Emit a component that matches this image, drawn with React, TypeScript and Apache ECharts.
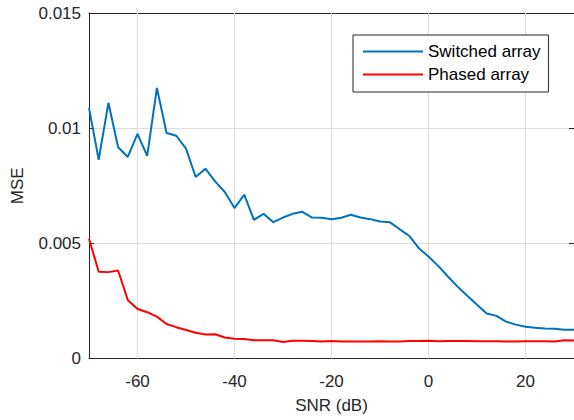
import React, { useEffect, useRef } from "react";
import * as echarts from "echarts";

const snr: number[] = [];
for (let v = -70; v <= 30; v += 2) snr.push(v);

const switchedArray = [
  0.01088, 0.00863, 0.0111, 0.00917, 0.00875, 0.00975, 0.0088, 0.01175, 0.00979, 0.00967,
  0.00911, 0.00788, 0.00824, 0.00769, 0.00723, 0.00653, 0.00711, 0.00602, 0.00628, 0.00592,
  0.00612, 0.00628, 0.00637, 0.00612, 0.00611, 0.00605, 0.00611, 0.00624, 0.00612, 0.00605,
  0.00595, 0.00592, 0.00562, 0.00533, 0.00479, 0.00443, 0.00402, 0.00356, 0.00312, 0.00272,
  0.00233, 0.00195, 0.00185, 0.0016, 0.00147, 0.00138, 0.00133, 0.0013, 0.00129, 0.00125,
  0.00125,
];

const phasedArray = [
  0.0052, 0.00377, 0.00375, 0.00382, 0.00254, 0.00215, 0.00201, 0.00182, 0.0015, 0.00136,
  0.00124, 0.00112, 0.00104, 0.00105, 0.00091, 0.00086, 0.00085, 0.00079, 0.00079, 0.00079,
  0.00072, 0.00077, 0.00077, 0.00076, 0.00074, 0.00076, 0.00074, 0.00074, 0.00074, 0.00074,
  0.00075, 0.00074, 0.00074, 0.00076, 0.00076, 0.00077, 0.00075, 0.00076, 0.00076, 0.00076,
  0.00075, 0.00075, 0.00075, 0.00074, 0.00074, 0.00075, 0.00075, 0.00075, 0.00074, 0.00079,
  0.00078,
];

const xTicks = [-60, -40, -20, 0, 20];
const yTicks = [0, 0.005, 0.01, 0.015];
const seriesNames = ["Switched array", "Phased array"];
const seriesColors = ["#0072BD", "#FF0000"];

const FONT = "'Liberation Sans', Arial, sans-serif";
const AXIS_COLOR = "#262626";
const GRID_COLOR = "#dedede";

export default function App() {
  const ref = useRef<HTMLDivElement>(null);

  useEffect(() => {
    if (!ref.current) return;
    const chart = echarts.init(ref.current, undefined, { renderer: "svg" });
    const tickCommon = { show: true, inside: true, length: 5, lineStyle: { color: AXIS_COLOR } };
    const axisLineCommon = { show: true, onZero: false, lineStyle: { color: AXIS_COLOR, width: 1 } };
    chart.setOption({
      animation: false,
      backgroundColor: "#ffffff",
      textStyle: { fontFamily: FONT },
      grid: { left: 89, top: 13, right: 0, bottom: 61.5, containLabel: false },
      legend: {
        orient: "vertical",
        left: 353,
        top: 35,
        data: seriesNames,
        icon: "rect",
        itemWidth: 60,
        itemHeight: 2,
        itemGap: 6,
        padding: [8, 8, 9, 10],
        backgroundColor: "#ffffff",
        borderColor: AXIS_COLOR,
        borderWidth: 1,
        borderRadius: 0,
        textStyle: { fontFamily: FONT, fontSize: 17, color: "#000000" },
      },
      xAxis: [
        {
          type: "value",
          min: -70,
          max: 30,
          interval: 10,
          name: "SNR (dB)",
          nameLocation: "middle",
          nameGap: 38,
          nameTextStyle: { fontFamily: FONT, fontSize: 17, color: AXIS_COLOR },
          axisLine: axisLineCommon,
          axisTick: { ...tickCommon, customValues: xTicks },
          axisLabel: {
            customValues: xTicks,
            margin: 14,
            fontFamily: FONT,
            fontSize: 17,
            color: AXIS_COLOR,
            formatter: (v: number) => String(v),
          },
          splitLine: { show: false },
        },
        {
          type: "value",
          position: "top",
          min: -70,
          max: 30,
          interval: 10,
          axisLine: axisLineCommon,
          axisTick: { ...tickCommon, customValues: xTicks },
          axisLabel: { show: false },
          splitLine: { show: false },
        },
      ],
      yAxis: [
        {
          type: "value",
          min: 0,
          max: 0.015,
          interval: 0.005,
          name: "MSE",
          nameLocation: "middle",
          nameGap: 63,
          nameTextStyle: { fontFamily: FONT, fontSize: 17, color: AXIS_COLOR },
          axisLine: axisLineCommon,
          axisTick: tickCommon,
          axisLabel: {
            margin: 8,
            fontFamily: FONT,
            fontSize: 17,
            color: AXIS_COLOR,
            formatter: (v: number) => {
              const t = yTicks.find((y) => Math.abs(y - v) < 1e-9);
              return t === undefined ? "" : String(t);
            },
          },
          splitLine: { show: true, lineStyle: { color: GRID_COLOR, width: 1 } },
        },
        {
          type: "value",
          position: "right",
          min: 0,
          max: 0.015,
          interval: 0.005,
          axisLine: axisLineCommon,
          axisTick: tickCommon,
          axisLabel: { show: false },
          splitLine: { show: false },
        },
      ],
      series: [
        {
          name: seriesNames[0],
          type: "line",
          symbol: "none",
          data: snr.map((x, i) => [x, switchedArray[i]]),
          lineStyle: { color: seriesColors[0], width: 2 },
          itemStyle: { color: seriesColors[0] },
          z: 3,
          markLine: {
            silent: true,
            symbol: "none",
            label: { show: false },
            lineStyle: { color: GRID_COLOR, width: 1, type: "solid" },
            emphasis: { disabled: true },
            z: 1,
            data: xTicks.map((x) => ({ xAxis: x })),
          },
        },
        {
          name: seriesNames[1],
          type: "line",
          symbol: "none",
          data: snr.map((x, i) => [x, phasedArray[i]]),
          lineStyle: { color: seriesColors[1], width: 2 },
          itemStyle: { color: seriesColors[1] },
          z: 3,
        },
      ],
    });
    return () => chart.dispose();
  }, []);

  return (
    <div
      ref={ref}
      style={{ position: "fixed", left: 0, top: 0, width: 574, height: 420, background: "#fff" }}
    />
  );
}
